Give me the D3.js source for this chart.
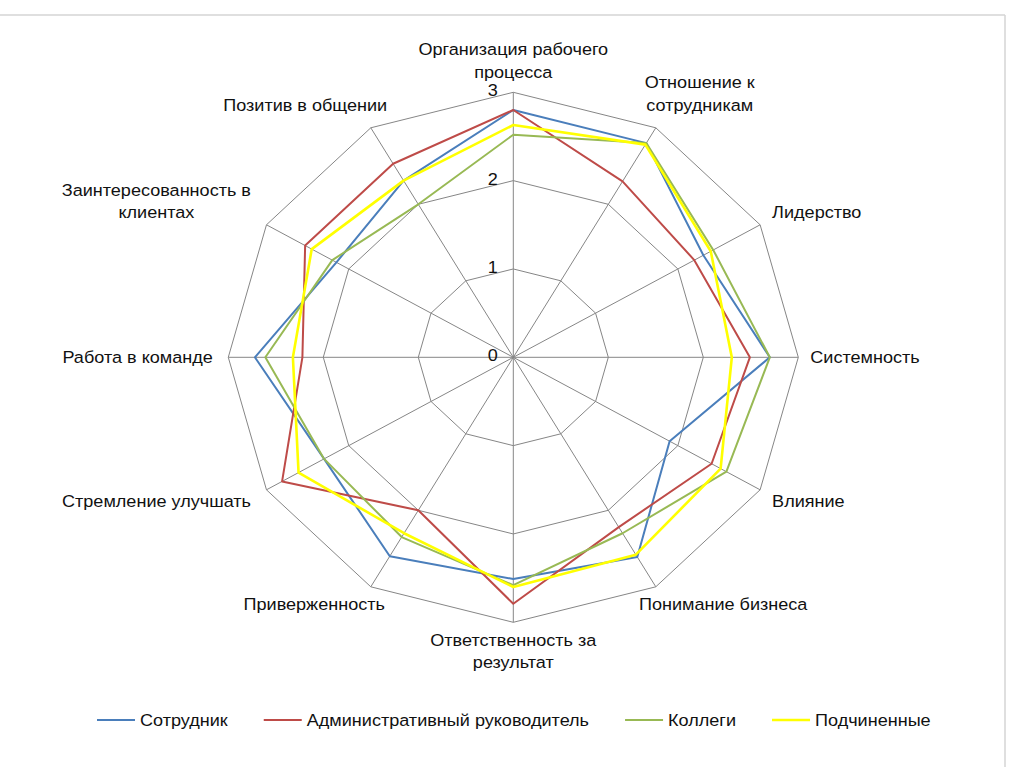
<!DOCTYPE html>
<html><head><meta charset="utf-8">
<script src="https://cdn.jsdelivr.net/npm/d3@7/dist/d3.min.js"></script>
<style>
body{margin:0;background:#fff;}
svg{display:block;}
text{font-family:"Liberation Sans",Arial,sans-serif;fill:#111;}
</style>
</head><body>
<svg id="chart" width="1024" height="767"></svg>
<script>
// ---- data ----
const categories = [
  "Организация рабочего\nпроцесса",
  "Отношение к\nсотрудникам",
  "Лидерство",
  "Системность",
  "Влияние",
  "Понимание бизнеса",
  "Ответственность за\nрезультат",
  "Приверженность",
  "Стремление улучшать",
  "Работа в команде",
  "Заинтересованность в\nклиентах",
  "Позитив в общении"
];
const seriesNames = ["Сотрудник", "Административный руководитель", "Коллеги", "Подчиненные"];
const employee     = [2.80, 2.80, 2.31, 2.70, 1.90, 2.61, 2.51, 2.60, 2.30, 2.72, 2.15, 2.31];
const admin        = [2.80, 2.30, 2.20, 2.49, 2.41, 2.22, 2.79, 2.00, 2.81, 2.22, 2.53, 2.53];
const colleagues   = [2.52, 2.80, 2.43, 2.70, 2.59, 2.30, 2.58, 2.35, 2.30, 2.61, 2.20, 2.00];
const subordinates = [2.63, 2.78, 2.40, 2.30, 2.52, 2.58, 2.60, 2.30, 2.61, 2.32, 2.45, 2.31];
const tickValues = [0, 1, 2, 3];
const seriesColors = ["#4a7ebb", "#be4b48", "#98b954", "#ffff00"];

const seriesValues = [employee, admin, colleagues, subordinates];

// ---- layout ----
const FS = "16.8px";
const svg = d3.select("#chart");
const sx = 1.0755;             // horizontal stretch of the original picture
const cx = 513.3, cy = 357.3;
const R = 265;
const n = categories.length;
const r = d3.scaleLinear().domain([0, 3]).range([0, R]);
const ang = d3.scaleLinear().domain([0, n]).range([0, 2 * Math.PI]);

// frame of the slide
svg.append("line").attr("x1", 0).attr("x2", 1005).attr("y1", 15).attr("y2", 15)
  .attr("stroke", "#d4d4d4").attr("stroke-width", 1.5);
svg.append("line").attr("x1", 1005).attr("x2", 1005).attr("y1", 15).attr("y2", 767)
  .attr("stroke", "#d4d4d4").attr("stroke-width", 1.5);

const g = svg.append("g").attr("transform", `translate(${cx},${cy}) scale(${sx},1)`);

const pt = (i, v) => [r(v) * Math.sin(ang(i)), -r(v) * Math.cos(ang(i))];

// grid rings
tickValues.filter(t => t > 0).forEach(t => {
  g.append("path")
    .attr("d", d3.line()(d3.range(n).map(i => pt(i, t))) + "Z")
    .attr("fill", "none").attr("stroke", "#868686").attr("stroke-width", 1)
    .attr("vector-effect", "non-scaling-stroke");
});
// spokes
d3.range(n).forEach(i => {
  const p = pt(i, 3);
  g.append("line").attr("x1", 0).attr("y1", 0).attr("x2", p[0]).attr("y2", p[1])
    .attr("stroke", "#868686").attr("stroke-width", 1)
    .attr("vector-effect", "non-scaling-stroke");
});

// tick labels
g.selectAll("text.tick").data(tickValues).join("text")
  .attr("class", "tick")
  .attr("x", -15.5 / sx).attr("y", d => -r(d) - 2)
  .attr("dy", "0.35em").attr("text-anchor", "end")
  .style("font-size", FS).text(d => d);

// series
const radial = d3.lineRadial()
  .angle((d, i) => ang(i)).radius(d => r(d)).curve(d3.curveLinearClosed);
seriesValues.forEach((vals, k) => {
  g.append("path").attr("d", radial(vals))
    .attr("fill", "none").attr("stroke", seriesColors[k])
    .attr("stroke-width", k === 3 ? 2.6 : 2)
    .attr("stroke-linejoin", "round")
    .attr("vector-effect", "non-scaling-stroke");
});

// category labels
const LH = 22.5;
categories.forEach((name, i) => {
  const a = ang(i), s = Math.sin(a), c = Math.cos(a);
  const vx = R * s * sx, vy = -R * c;  // display offsets
  const lines = name.split("\n");
  const t = g.append("text").attr("text-anchor", "middle").style("font-size", FS);
  const spans = lines.map(l => t.append("tspan").text(l));
  const w = d3.max(spans, sp => sp.node().getComputedTextLength()) * sx;
  const H = lines.length * LH;
  let bx;
  if (Math.abs(s) < 0.01) bx = vx;
  else if (Math.abs(s) > 0.8) bx = vx + (s > 0 ? 12 : -15.5) + Math.sign(s) * w / 2;
  else bx = vx - Math.sign(s) * 0.1 * w + Math.sign(s) * w / 2;
  let by;
  if (Math.abs(c) < 0.01) by = vy;
  else if (c > 0) {
    const d = c > 0.95 ? 9.4 : c > 0.8 ? 11.5 : 1;
    by = vy - d - H / 2;
  } else {
    const d = c < -0.95 ? 6.5 : c < -0.8 ? 6 : 0;
    by = vy + d + H / 2;
  }
  spans.forEach((sp, k) => {
    sp.attr("x", bx / sx).attr("y", by + (k - (lines.length - 1) / 2) * LH).attr("dy", "0.35em");
  });
});

// legend
const leg = svg.append("g").attr("transform", `scale(${sx},1)`);
let lx = 97;
const ly = 720;
seriesNames.forEach((nm, k) => {
  leg.append("line").attr("x1", lx / sx).attr("x2", (lx + 38) / sx)
    .attr("y1", ly).attr("y2", ly)
    .attr("stroke", seriesColors[k]).attr("stroke-width", k === 3 ? 2.6 : 2)
    .attr("vector-effect", "non-scaling-stroke");
  const tx = leg.append("text").attr("x", (lx + 43) / sx).attr("y", ly).attr("dy", "0.35em")
    .style("font-size", FS).text(nm);
  const w = tx.node().getComputedTextLength() * sx;
  lx = lx + 43 + w + 36;
});
</script>
</body></html>
